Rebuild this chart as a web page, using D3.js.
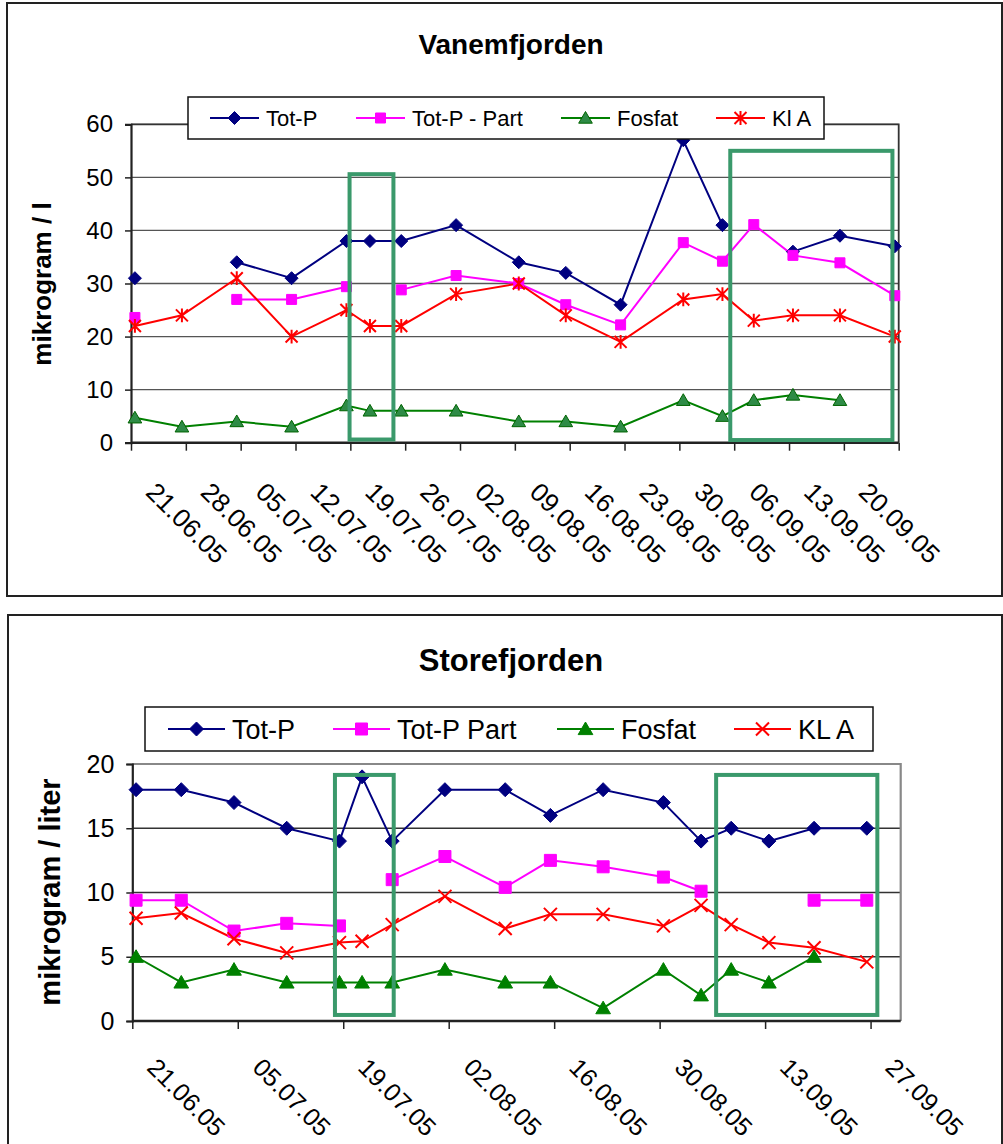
<!DOCTYPE html>
<html><head><meta charset="utf-8">
<script src="https://cdn.jsdelivr.net/npm/d3@7"></script>
<style>
body{margin:0;background:#fff}
svg{display:block;font-family:Arial,"Liberation Sans",Helvetica,sans-serif}
</style>
</head><body>
<svg id="c" width="1003" height="1144"></svg>
<script>
// ---------- DATA ----------
const dates = ["2005-06-21","2005-06-27","2005-07-04","2005-07-11","2005-07-18","2005-07-21","2005-07-25","2005-08-01","2005-08-09","2005-08-15","2005-08-22","2005-08-30","2005-09-04","2005-09-08","2005-09-13","2005-09-19","2005-09-26"];

// Vanemfjorden
const vanTotP   = [31, null, 34, 31, 38, 38, 38, 41, 34, 32, 26, 57, 41, null, 36, 39, 37];
const vanPart   = [23.6, null, 27, 27, 29.4, null, 28.8, 31.5, 30, 26, 22.2, 37.7, 34.2, 41.1, 35.3, 33.9, 27.7];
const vanFosfat = [4.7, 3, 4, 3, 7, 6, 6, 6, 4, 4, 3, 8, 5, 8, 9, 8, null];
const vanKlA    = [22, 24, 31, 20, 25, 22, 22, 28, 30, 24, 19, 27, 28, 23, 24, 24, 20];
const vanSeriesNames = ["Tot-P", "Tot-P - Part", "Fosfat", "Kl A"];
const vanXTicks = ["2005-06-21","2005-06-28","2005-07-05","2005-07-12","2005-07-19","2005-07-26","2005-08-02","2005-08-09","2005-08-16","2005-08-23","2005-08-30","2005-09-06","2005-09-13","2005-09-20","2005-09-27"];
const vanXLabels = ["21.06.05","28.06.05","05.07.05","12.07.05","19.07.05","26.07.05","02.08.05","09.08.05","16.08.05","23.08.05","30.08.05","06.09.05","13.09.05","20.09.05",""];
const vanYTicks = [0,10,20,30,40,50,60];
// highlight boxes: [days from first date start, days end, value low, value high]
const vanBoxes = [[27.9, 33.5, 0.6, 50.6], [76.5, 97.2, 0.5, 55.0]];

// Storefjorden
const stoTotP   = [18, 18, 17, 15, 14, 19, 14, 18, 18, 16, 18, 17, 14, 15, 14, 15, 15];
const stoPart   = [9.4, 9.4, 7.0, 7.6, 7.4, null, 11.0, 12.8, 10.4, 12.5, 12.0, 11.2, 10.1, null, null, 9.4, 9.4];
const stoFosfat = [5, 3, 4, 3, 3, 3, 3, 4, 3, 3, 1, 4, 2, 4, 3, 5, null];
const stoKlA    = [8.0, 8.4, 6.4, 5.3, 6.1, 6.2, 7.5, 9.7, 7.2, 8.3, 8.3, 7.4, 9.0, 7.5, 6.1, 5.7, 4.6];
const stoSeriesNames = ["Tot-P", "Tot-P Part", "Fosfat", "KL A"];
const stoXTicks = ["2005-06-21","2005-07-05","2005-07-19","2005-08-02","2005-08-16","2005-08-30","2005-09-13","2005-09-27"];
const stoXLabels = ["21.06.05","05.07.05","19.07.05","02.08.05","16.08.05","30.08.05","13.09.05","27.09.05"];
const stoYTicks = [0,5,10,15,20];
const stoBoxes = [[26.9, 34.7, 0.47, 19.15], [77.5, 98.9, 0.47, 19.15]];

// ---------- DRAW ----------
const parse = d3.utcParse("%Y-%m-%d");
const svg = d3.select("#c");
const BOXGREEN = "#3a996b";

function markerPath(type, s) {
  if (type === "diamond") return `M0,${-s}L${s},0L0,${s}L${-s},0Z`;
  if (type === "square") return `M${-s},${-s}H${s}V${s}H${-s}Z`;
  if (type === "triangle") return `M0,${-s}L${s*1.05},${s*0.8}L${-s*1.05},${s*0.8}Z`;
  if (type === "asterisk") return `M${-s},${-s}L${s},${s}M${-s},${s}L${s},${-s}M0,${-s*1.15}V${s*1.15}`;
  if (type === "x") return `M${-s},${-s}L${s},${s}M${-s},${s}L${s},${-s}`;
}

function drawChart(cfg) {
  const g = svg.append("g");
  // frame
  g.append("rect").attr("x", cfg.frame[0]).attr("y", cfg.frame[1])
    .attr("width", cfg.frame[2]).attr("height", cfg.frame[3])
    .attr("fill", "#fff").attr("stroke", "#222").attr("stroke-width", 2);
  // title
  g.append("text").attr("x", cfg.titlePos[0]).attr("y", cfg.titlePos[1])
    .attr("text-anchor", "middle").attr("font-weight", "bold")
    .attr("font-size", cfg.titleSize).text(cfg.title);

  const d0 = parse(dates[0]);
  const x = d3.scaleUtc().domain([d0, parse(cfg.xEnd)]).range([cfg.plot.left, cfg.plot.right]);
  const y = d3.scaleLinear().domain([0, cfg.yMax]).range([cfg.plot.bottom, cfg.plot.top]);
  const xd = (d) => x(d3.utcHour.offset(parse(d), 12));
  const xDays = (n) => x(new Date(d0.getTime() + n * 86400000));

  // gridlines
  g.append("g").selectAll("line").data(cfg.yTicks.filter(v => v > 0)).join("line")
    .attr("x1", cfg.plot.left).attr("x2", cfg.plot.right)
    .attr("y1", d => y(d)).attr("y2", d => y(d))
    .attr("stroke", cfg.gridColor).attr("stroke-width", 1.3);
  // plot border (top & right)
  g.append("path")
    .attr("d", `M${cfg.plot.left},${cfg.plot.top}H${cfg.plot.right}V${cfg.plot.bottom}`)
    .attr("fill", "none").attr("stroke", cfg.borderColor).attr("stroke-width", cfg.borderWidth);

  // y axis
  const ya = g.append("g").attr("transform", `translate(${cfg.plot.left},0)`)
    .call(d3.axisLeft(y).tickValues(cfg.yTicks).tickSize(6).tickPadding(cfg.yPad).tickFormat(d3.format("d")));
  ya.select(".domain").attr("stroke", "#222").attr("stroke-width", 2.2);
  ya.selectAll(".tick line").attr("stroke", "#222").attr("stroke-width", 1.5);
  ya.selectAll(".tick text").attr("font-size", cfg.yFont).attr("fill", "#000")
    .attr("font-family", "Arial,'Liberation Sans',sans-serif");

  // x axis
  const xa = g.append("g").attr("transform", `translate(0,${cfg.plot.bottom})`)
    .call(d3.axisBottom(x).tickValues(cfg.xTicks.map(parse)).tickSize(8)
      .tickFormat((d, i) => cfg.xLabels[i]));
  xa.select(".domain").attr("stroke", "#222").attr("stroke-width", 2.6).attr("d", `M${cfg.plot.left},0H${cfg.plot.right}`);
  xa.selectAll(".tick line").attr("stroke", "#222").attr("stroke-width", 1.5);
  xa.selectAll(".tick text").attr("font-size", cfg.xFont).attr("fill", "#000")
    .attr("font-family", "Arial,'Liberation Sans',sans-serif")
    .attr("text-anchor", "start").attr("x", 0).attr("y", 0).attr("dy", 0)
    .attr("transform", `translate(${cfg.xLabOff[0]},${cfg.xLabOff[1]}) rotate(45)`);

  // y title
  g.append("text")
    .attr("transform", `translate(${cfg.yTitlePos[0]},${cfg.yTitlePos[1]}) rotate(-90)`)
    .attr("text-anchor", "middle").attr("font-weight", "bold")
    .attr("font-size", cfg.yTitleSize).text(cfg.yTitle);

  // series
  cfg.series.forEach(s => {
    const pts = dates.map((d, i) => ({ d, v: s.values[i] }));
    g.append("path").datum(pts)
      .attr("d", d3.line().defined(p => p.v != null).x(p => xd(p.d)).y(p => y(p.v)))
      .attr("fill", "none").attr("stroke", s.color).attr("stroke-width", 2);
  });
  cfg.series.forEach(s => {
    const pts = dates.map((d, i) => ({ d, v: s.values[i] })).filter(p => p.v != null);
    const isLine = s.marker === "asterisk" || s.marker === "x";
    g.append("g").selectAll("path").data(pts).join("path")
      .attr("transform", p => `translate(${xd(p.d)},${y(p.v)})`)
      .attr("d", markerPath(s.marker, s.size))
      .attr("fill", isLine ? "none" : s.fill)
      .attr("stroke", s.mstroke).attr("stroke-width", isLine ? 2 : 1);
  });

  // highlight boxes
  g.append("g").selectAll("rect").data(cfg.boxes).join("rect")
    .attr("x", b => xDays(b[0])).attr("width", b => xDays(b[1]) - xDays(b[0]))
    .attr("y", b => y(b[3])).attr("height", b => y(b[2]) - y(b[3]))
    .attr("fill", "none").attr("stroke", BOXGREEN).attr("stroke-width", 4);

  // legend
  const L = cfg.legend;
  const lg = g.append("g");
  lg.append("rect").attr("x", L.box[0]).attr("y", L.box[1]).attr("width", L.box[2]).attr("height", L.box[3])
    .attr("fill", "#fff").attr("stroke", "#111").attr("stroke-width", 1.5);
  const cy = L.box[1] + L.box[3] / 2;
  cfg.series.forEach((s, i) => {
    const x0 = L.starts[i];
    lg.append("line").attr("x1", x0).attr("x2", x0 + L.lineLen).attr("y1", cy).attr("y2", cy)
      .attr("stroke", s.color).attr("stroke-width", 2);
    const isLine = s.marker === "asterisk" || s.marker === "x";
    lg.append("path").attr("transform", `translate(${x0 + L.lineLen / 2},${cy})`)
      .attr("d", markerPath(s.marker, s.size))
      .attr("fill", isLine ? "none" : s.fill).attr("stroke", s.mstroke).attr("stroke-width", isLine ? 2 : 1);
    lg.append("text").attr("x", x0 + L.lineLen + L.textGap).attr("y", cy).attr("dy", "0.36em")
      .attr("font-size", L.font).text(cfg.names[i]);
  });
}

drawChart({
  frame: [7, 3, 995, 593],
  title: "Vanemfjorden", titlePos: [511, 54], titleSize: 28,
  plot: { left: 131, right: 898.7, top: 124.3, bottom: 442.7 },
  xEnd: "2005-09-27", yMax: 60, yTicks: vanYTicks,
  xTicks: vanXTicks, xLabels: vanXLabels, xFont: 26, xLabOff: [13, 51],
  yFont: 24, yPad: 12,
  gridColor: "#555", borderColor: "#333", borderWidth: 1.8,
  yTitle: "mikrogram / l", yTitlePos: [51, 284], yTitleSize: 26,
  names: vanSeriesNames,
  series: [
    { values: vanTotP, color: "#000080", marker: "diamond", size: 6.5, fill: "#000080", mstroke: "#000080" },
    { values: vanPart, color: "#ff00ff", marker: "square", size: 5, fill: "#ff00ff", mstroke: "#ff00ff" },
    { values: vanFosfat, color: "#008000", marker: "triangle", size: 6.5, fill: "#2e8b46", mstroke: "#006400" },
    { values: vanKlA, color: "#ff0000", marker: "asterisk", size: 6, fill: "none", mstroke: "#ff0000" }
  ],
  boxes: vanBoxes,
  legend: { box: [188, 97, 636, 42], starts: [210, 356, 561, 716], lineLen: 49, textGap: 7, font: 22 }
});

drawChart({
  frame: [8, 615, 994, 540],
  title: "Storefjorden", titlePos: [511, 671], titleSize: 31,
  plot: { left: 132.3, right: 900.7, top: 764, bottom: 1021 },
  xEnd: "2005-10-01", yMax: 20, yTicks: stoYTicks,
  xTicks: stoXTicks, xLabels: stoXLabels, xFont: 25, xLabOff: [13, 48],
  yFont: 25, yPad: 12,
  gridColor: "#333", borderColor: "#888", borderWidth: 2.2,
  yTitle: "mikrogram / liter", yTitlePos: [60, 892], yTitleSize: 29,
  names: stoSeriesNames,
  series: [
    { values: stoTotP, color: "#000080", marker: "diamond", size: 7, fill: "#000080", mstroke: "#000080" },
    { values: stoPart, color: "#ff00ff", marker: "square", size: 6, fill: "#ff00ff", mstroke: "#ff00ff" },
    { values: stoFosfat, color: "#008000", marker: "triangle", size: 7, fill: "#008000", mstroke: "#008000" },
    { values: stoKlA, color: "#ff0000", marker: "x", size: 6.5, fill: "none", mstroke: "#ff0000" }
  ],
  boxes: stoBoxes,
  legend: { box: [145, 707, 728, 44], starts: [168, 333, 557, 734], lineLen: 57, textGap: 7, font: 27 }
});
</script>
</body></html>
